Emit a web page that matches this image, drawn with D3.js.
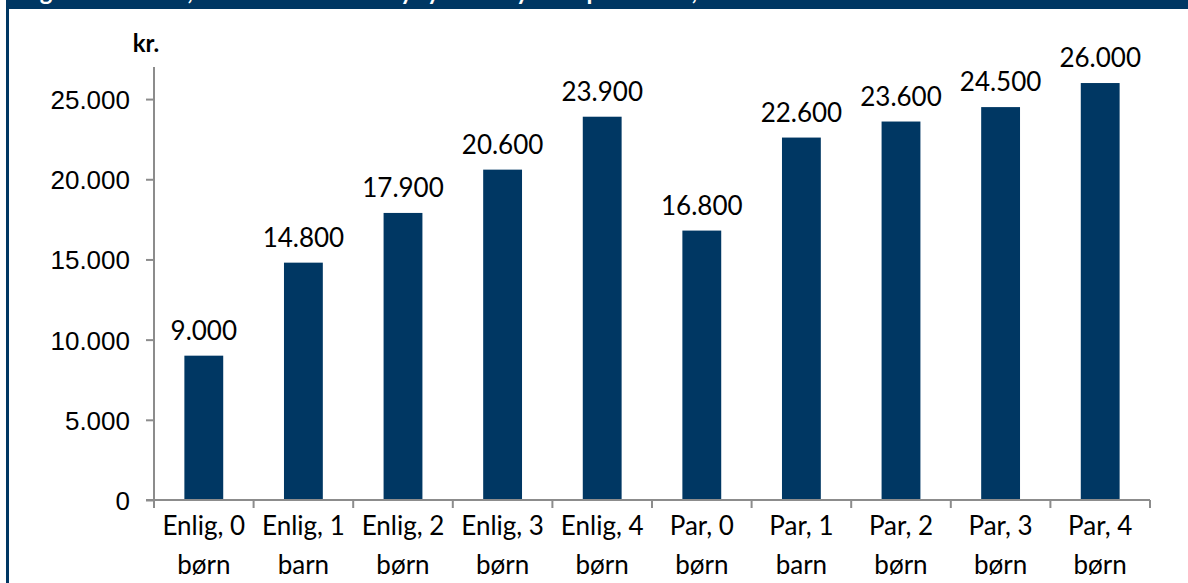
<!DOCTYPE html>
<html>
<head>
<meta charset="utf-8">
<script src="https://cdn.jsdelivr.net/npm/d3@7"></script>
<style>
  body { margin: 0; background: #fff; }
  svg { display: block; font-family: Lato, "Open Sans", sans-serif; }
</style>
</head>
<body>
<svg id="chart" width="1188" height="583"></svg>
<script>
// data
const categories = [
  ["Enlig, 0", "børn"], ["Enlig, 1", "barn"], ["Enlig, 2", "børn"],
  ["Enlig, 3", "børn"], ["Enlig, 4", "børn"], ["Par, 0", "børn"],
  ["Par, 1", "barn"], ["Par, 2", "børn"], ["Par, 3", "børn"], ["Par, 4", "børn"]
];
const values = [9000, 14800, 17900, 20600, 23900, 16800, 22600, 23600, 24500, 26000];
const yTicks = [0, 5000, 10000, 15000, 20000, 25000];
const unitLabel = "kr.";
const titleText = "Figur 3. Gevinst, kr. om måneden i nyt ydelsessystem pr. familie, 2024";

const navy = "#003763";
const axisGrey = "#8c8c8c";

const dk = d3.formatLocale({ decimal: ",", thousands: ".", grouping: [3], currency: ["", " kr."] });
const fmt = dk.format(",.0f");

const svg = d3.select("#chart");

// frame: top band + left border
svg.append("rect").attr("x", 6).attr("y", 0).attr("width", 1182).attr("height", 9).attr("fill", navy);
svg.append("rect").attr("x", 6).attr("y", 0).attr("width", 3).attr("height", 583).attr("fill", navy);

// title sits above the visible area, only its descenders show in the band
svg.append("clipPath").attr("id", "band")
  .append("rect").attr("x", 9).attr("y", 0).attr("width", 1179).attr("height", 9);
svg.append("text")
  .attr("clip-path", "url(#band)")
  .attr("x", 20).attr("y", 0)
  .attr("fill", "#fff")
  .attr("font-weight", "bold")
  .attr("font-size", 24)
  .text(titleText);

const x = d3.scaleBand()
  .domain(d3.range(categories.length))
  .range([154, 1150])
  .paddingInner(0.61)
  .paddingOuter(0.305);

const band = d3.scaleBand().domain(d3.range(categories.length)).range([154, 1150]);

const y = d3.scaleLinear().domain([0, 27000]).range([500, 67]);

// bars
svg.append("g")
  .attr("fill", navy)
  .selectAll("rect")
  .data(values)
  .join("rect")
  .attr("x", (d, i) => x(i))
  .attr("y", d => y(d))
  .attr("width", x.bandwidth())
  .attr("height", d => y(0) - y(d));

// value labels
svg.append("g")
  .selectAll("text")
  .data(values)
  .join("text")
  .attr("x", (d, i) => x(i) + x.bandwidth() / 2)
  .attr("y", d => y(d) - 16)
  .attr("text-anchor", "middle")
  .attr("font-size", 26)
  .attr("fill", "#000")
  .text(d => fmt(d));

// y axis
const yAxis = svg.append("g")
  .attr("transform", "translate(154,0)")
  .call(d3.axisLeft(y).tickValues(yTicks).tickFormat(fmt).tickSize(8).tickPadding(16));
yAxis.select(".domain").attr("stroke", axisGrey).attr("stroke-width", 2)
  .attr("d", "M0," + y(27000) + "V" + y(0));
yAxis.selectAll(".tick line").attr("stroke", axisGrey).attr("stroke-width", 2);
yAxis.selectAll(".tick text").attr("font-size", 26).attr("fill", "#000").attr("dy", "0.36em");

// x axis
const xAxis = svg.append("g").attr("transform", "translate(0,500)");
xAxis.append("line")
  .attr("x1", 146).attr("x2", band.range()[1])
  .attr("stroke", axisGrey).attr("stroke-width", 2);
xAxis.selectAll("line.tk")
  .data(d3.range(categories.length + 1))
  .join("line")
  .attr("class", "tk")
  .attr("x1", i => i < categories.length ? band(i) : band.range()[1])
  .attr("x2", i => i < categories.length ? band(i) : band.range()[1])
  .attr("y1", 0).attr("y2", 8)
  .attr("stroke", axisGrey).attr("stroke-width", 2);

const catText = xAxis.selectAll("text.cat")
  .data(categories)
  .join("text")
  .attr("class", "cat")
  .attr("text-anchor", "middle")
  .attr("font-size", 26)
  .attr("fill", "#000");
catText.selectAll("tspan")
  .data((d, i) => d.map(s => ({ s, i })))
  .join("tspan")
  .attr("x", d => band(d.i) + band.bandwidth() / 2)
  .attr("y", (d, j) => 35 + j * 39)
  .text(d => d.s);

// unit label
svg.append("text")
  .attr("x", 146).attr("y", 52)
  .attr("text-anchor", "middle")
  .attr("font-size", 24)
  .attr("font-weight", "bold")
  .text(unitLabel);
</script>
</body>
</html>
